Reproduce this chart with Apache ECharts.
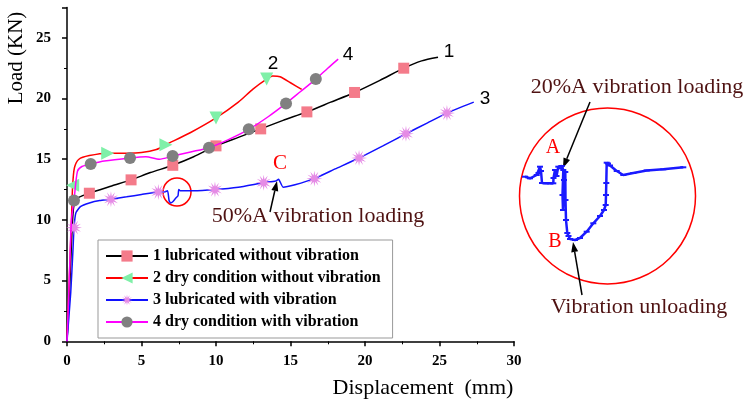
<!DOCTYPE html>
<html>
<head>
<meta charset="utf-8">
<style>
    html, body { margin: 0; padding: 0; background: #fff; }
    #chart { width: 747px; height: 399px; }
</style>
</head>
<body>
<div id="chart"></div>
<script src="https://cdn.jsdelivr.net/npm/echarts/dist/echarts.min.js"></script>
<script>
// load-displacement curves, [displacement mm, load kN]
const curve1 = [[0,0],[0.2,5],[0.4,10.5],[0.6,11.7],[1.5,12.2],[3,12.8],[4.3,13.3],[5.6,13.9],[7.1,14.5],[8.5,15.2],
    [10,16.1],[11.5,16.8],[13,17.5],[14.5,18.2],[16.1,18.9],[17.7,19.7],[19.3,20.5],[21,21.5],[22.6,22.5],[23.8,23.1],[24.9,23.4]];
const marks1 = [4, 6, 8, 10, 12, 14, 16, 18];

const curve2 = [[0,0],[0.15,5],[0.3,10],[0.38,12.85],[0.5,14.3],[0.8,15.0],[1.5,15.3],[2.73,15.5],[4,15.5],[5,15.55],
    [6,15.8],[6.64,16.2],[8.3,17.2],[10,18.4],[11.5,19.7],[12.5,20.8],[13.4,21.6],[13.8,21.85],[14.3,21.8],[15,21.3],[15.75,20.75]];
const marks2 = [3, 7, 11, 13, 16];

const curve3 = [[0,0],[0.25,4],[0.4,7.5],[0.47,9.36],[0.6,10.6],[0.9,11.1],[1.5,11.4],[2.2,11.6],[2.95,11.7],[4,11.9],
    [5,12.1],[6.13,12.3],[6.5,12.3],[6.75,12.4],[6.85,11.6],[6.95,11.4],[7.1,11.5],[7.3,11.8],[7.45,12.0],[7.5,12.5],[7.6,12.4],
    [8.5,12.4],[9.93,12.5],[11.5,12.7],[13.2,13.07],[14.0,13.2],[14.2,13.35],[14.5,12.7],[15.3,12.9],[16.6,13.4],[18,14.2],
    [19.6,15.1],[21.2,16.1],[22.75,17.1],[24.2,18.0],[25.5,18.8],[27.3,19.7]];
const marks3 = [3, 8, 11, 22, 24, 29, 31, 33, 35];

const curve4 = [[0,0],[0.15,5],[0.3,10],[0.47,11.6],[0.7,14.0],[1.0,14.4],[1.59,14.6],[2.5,14.85],[4.23,15.1],[5.3,15.2],
    [6.2,15.0],[7.09,15.26],[8.3,15.6],[9.53,15.95],[10.8,16.6],[12.2,17.46],[13.5,18.5],[14.7,19.6],[15.7,20.6],[16.7,21.6],
    [17.5,22.5],[18.2,23.25]];
const marks4 = [3, 6, 8, 11, 13, 15, 17, 19];

// magnified trace of the vibration dip (relative units)
const insetTrace = [[5,73.3],[10,71.7],[16.7,75],[18.5,77],[20,83.3],[21,79],[22,67],[26,66.7],[30,66.7],[33.3,66.7],
    [33.5,72],[35,80],[36.5,74],[38.3,83.3],[40,81.7],[41.7,84],[43.3,80],[42.5,55],[43,40],[44,70],[45.3,78],[45.5,50],
    [46,30],[47.3,17],[48.5,14],[50,11],[55,10],[60,12],[66.7,18.3],[73.3,26.7],[80,34],[84,40],[85.7,45],[86,55],
    [86.3,67],[86.7,87.3],[88,86.5],[90,84.5],[96.7,79],[103.3,75],[113.3,77],[126.7,79.5],[143.3,80.7],[163.3,82.7]];

const names = ['1 lubricated without vibration', '2 dry condition without vibration',
    '3 lubricated with vibration', '4 dry condition with vibration'];
const triRotate = [90, -90, -90, 180, 180];

const serif = 'Liberation Serif';
const maroon = '#4f1212';

function starPath() {
    let d = 'path://';
    for (let i = 0; i < 24; i++) {
        const r = i % 2 ? 4 : 10;
        const a = Math.PI * i / 12;
        d += (i ? 'L' : 'M') + (r * Math.cos(a)).toFixed(2) + ',' + (r * Math.sin(a)).toFixed(2);
    }
    return d + 'Z';
}

function withMarks(curve, marks, extra) {
    return curve.map((p, i) => {
        const k = marks.indexOf(i);
        if (k < 0) return { value: p, symbol: 'none' };
        return extra ? Object.assign({ value: p }, extra(k)) : { value: p };
    });
}

function arrow(x1, y1, x2, y2) {
    const a = Math.atan2(y2 - y1, x2 - x1), L = 10, W = 3.5;
    const bx = x2 - L * Math.cos(a), by = y2 - L * Math.sin(a);
    return [
        { type: 'line', shape: { x1: x1, y1: y1, x2: bx, y2: by }, style: { stroke: '#000', lineWidth: 1.5 } },
        { type: 'polygon', shape: { points: [[x2, y2], [bx - W * Math.sin(a), by + W * Math.cos(a)], [bx + W * Math.sin(a), by - W * Math.cos(a)]] },
          style: { fill: '#000' } }
    ];
}

function txt(x, y, text, font, color, extra) {
    return Object.assign({ type: 'text', x: x, y: y,
        style: { text: text, font: font, fill: color || '#000', align: 'center', verticalAlign: 'middle' } }, extra || {});
}

var chart = echarts.init(document.getElementById('chart'));
const option = {
    animation: false,
    backgroundColor: '#fff',
    grid: [
        { left: 67, top: 7.5, width: 447, height: 333.8 },
        { left: 520, top: 150, width: 180, height: 100 }
    ],
    legend: {
        data: names,
        orient: 'vertical',
        left: 98,
        top: 240,
        itemWidth: 42,
        itemHeight: 14,
        itemGap: 6,
        padding: [8, 12, 8, 7],
        borderColor: '#999',
        borderWidth: 1,
        selectedMode: false,
        textStyle: { fontFamily: serif, fontWeight: 'bold', fontSize: 16, color: '#000', lineHeight: 16 }
    },
    xAxis: [
        {
            type: 'value', gridIndex: 0, min: 0, max: 30, interval: 5,
            axisLine: { onZero: false, lineStyle: { color: '#000', width: 1.5 } },
            axisTick: { length: 5, lineStyle: { color: '#000', width: 1.5 } },
            minorTick: { show: true, splitNumber: 2, length: 3, lineStyle: { color: '#000', width: 1 } },
            splitLine: { show: false },
            axisLabel: { margin: 12, fontFamily: serif, fontWeight: 'bold', fontSize: 15, color: '#000' }
        },
        { type: 'value', gridIndex: 1, min: 0, max: 180, show: false }
    ],
    yAxis: [
        {
            type: 'value', gridIndex: 0, min: 0, max: 27.5, interval: 5,
            axisLine: { show: true, onZero: false, lineStyle: { color: '#000', width: 1.5 } },
            axisTick: { show: true, length: 5, lineStyle: { color: '#000', width: 1.5 } },
            minorTick: { show: true, splitNumber: 2, length: 3, lineStyle: { color: '#000', width: 1 } },
            splitLine: { show: false },
            axisLabel: { margin: 16, showMaxLabel: false, fontFamily: serif, fontWeight: 'bold', fontSize: 15, color: '#000' }
        },
        { type: 'value', gridIndex: 1, min: 0, max: 100, show: false }
    ],
    series: [
        {
            name: names[0], type: 'line', smooth: 0.25, z: 3,
            data: withMarks(curve1, marks1),
            symbol: 'rect', symbolSize: 11,
            lineStyle: { color: '#000', width: 1.5 },
            itemStyle: { color: '#f47b8a', borderWidth: 0 },
            color: '#000'
        },
        {
            name: names[1], type: 'line', smooth: 0.25, z: 3,
            data: withMarks(curve2, marks2, k => ({ symbolRotate: triRotate[k] })),
            symbol: 'triangle', symbolSize: 13, symbolRotate: 90,
            lineStyle: { color: '#ff0000', width: 1.5 },
            itemStyle: { color: '#7ff0a8', borderWidth: 0 },
            color: '#ff0000'
        },
        {
            name: names[2], type: 'line', smooth: 0.15, z: 3,
            data: withMarks(curve3, marks3),
            symbol: starPath(), symbolSize: 16,
            lineStyle: { color: '#1010ff', width: 1.5 },
            itemStyle: { color: '#e58be5', borderWidth: 0 },
            color: '#1010ff'
        },
        {
            name: names[3], type: 'line', smooth: 0.25, z: 4,
            data: withMarks(curve4, marks4),
            symbol: 'circle', symbolSize: 12,
            lineStyle: { color: '#ff00ff', width: 1.5 },
            itemStyle: { color: '#808080', borderWidth: 0 },
            color: '#ff00ff'
        },
        {
            name: 'inset', type: 'line', xAxisIndex: 1, yAxisIndex: 1,
            data: insetTrace,
            symbol: 'rect', symbolSize: [6, 2],
            lineStyle: { color: '#1a1aff', width: 2.5 },
            itemStyle: { color: '#1a1aff' }
        }
    ],
    graphic: [
        txt(16, 58, 'Load (KN)', '21px "Liberation Serif"', '#000', { rotation: Math.PI / 2 }),
        txt(423, 388, 'Displacement  (mm)', '22px "Liberation Serif"'),
        txt(449, 52, '1', '19px "Liberation Sans"'),
        txt(273, 64, '2', '19px "Liberation Sans"'),
        txt(485, 99, '3', '19px "Liberation Sans"'),
        txt(348, 55, '4', '19px "Liberation Sans"'),
        txt(280, 163, 'C', '21px "Liberation Serif"', '#ff0000'),
        txt(318, 216, '50%A vibration loading', '22px "Liberation Serif"', maroon),
        txt(637, 87, '20%A vibration loading', '22px "Liberation Serif"', maroon),
        txt(639, 307, 'Vibration unloading', '22px "Liberation Serif"', maroon),
        txt(553, 148, 'A', '20px "Liberation Serif"', '#ff0000'),
        txt(555, 242, 'B', '20px "Liberation Serif"', '#ff0000'),
        { type: 'circle', shape: { cx: 177, cy: 192, r: 14 }, style: { fill: 'none', stroke: '#ff0000', lineWidth: 1.5 } },
        { type: 'circle', shape: { cx: 607.5, cy: 196, r: 88 }, style: { fill: 'none', stroke: '#ff0000', lineWidth: 1.5 } }
    ]
        .concat(arrow(270, 212, 277, 181))
        .concat(arrow(590, 102, 563, 168))
        .concat(arrow(582, 295, 573, 242))
};
chart.setOption(option);
window.addEventListener('resize', function () {
    chart.resize();
});
</script>
</body>
</html>
